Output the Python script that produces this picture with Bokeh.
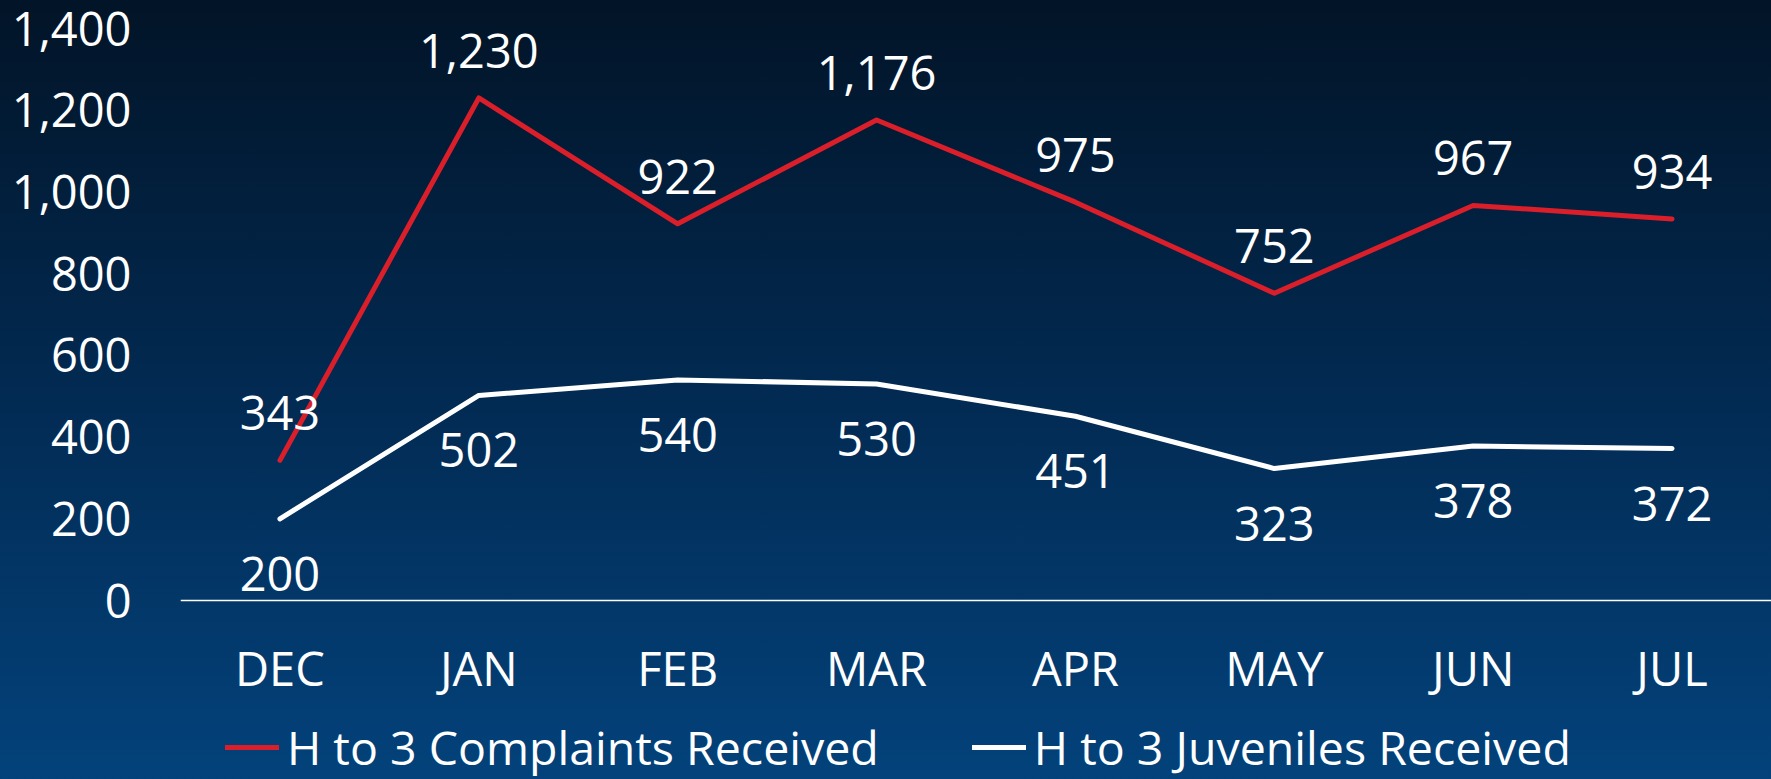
from bokeh.plotting import figure
from bokeh.models import ColumnDataSource, Legend, LegendItem, NumeralTickFormatter, FixedTicker
from bokeh.core.properties import value
from bokeh.embed import file_html
from bokeh.resources import INLINE

months = ["DEC", "JAN", "FEB", "MAR", "APR", "MAY", "JUN", "JUL"]
complaints = [343, 1230, 922, 1176, 975, 752, 967, 934]
juveniles = [200, 502, 540, 530, 451, 323, 378, 372]
y_ticks = [0, 200, 400, 600, 800, 1000, 1200, 1400]
series_names = ["H to 3 Complaints Received", "H to 3 Juveniles Received"]

FONT = "Open Sans"
FS = "47px"
RED = "#da1f2b"

src = ColumnDataSource(dict(
    m=months, c=complaints, j=juveniles,
    cl=[f"{v:,}" for v in complaints], jl=[f"{v:,}" for v in juveniles],
))

p = figure(width=1771, height=779, x_range=months, y_range=(-438, 1400),
           output_backend="svg", toolbar_location=None,
           min_border_left=180, min_border_right=0, min_border_top=28, min_border_bottom=0)
p.x_range.range_padding = 0
p.background_fill_color = None
p.border_fill_color = None
p.outline_line_color = None
p.styles = {"background": "linear-gradient(180deg, #021427 0%, #022a52 50%, #03427b 100%)"}
p.xgrid.grid_line_color = None
p.ygrid.grid_line_color = None

r1 = p.line("m", "c", source=src, line_color=RED, line_width=5, line_cap="round", line_join="round")
r2 = p.line("m", "j", source=src, line_color="white", line_width=5, line_cap="round", line_join="round")

p.text("m", "c", text="cl", source=src, text_color="white", text_font=value(FONT),
       text_font_size=FS, text_align="center", text_baseline="middle", y_offset=-47)
p.text("m", "j", text="jl", source=src, text_color="white", text_font=value(FONT),
       text_font_size=FS, text_align="center", text_baseline="middle", y_offset=55)

ya = p.yaxis[0]
ya.ticker = FixedTicker(ticks=y_ticks)
ya.formatter = NumeralTickFormatter(format="0,0")
ya.axis_line_color = None
ya.major_tick_line_color = None
ya.minor_tick_line_color = None
ya.major_label_text_color = "white"
ya.major_label_text_font = FONT
ya.major_label_text_font_size = FS
ya.major_label_standoff = 43

xa = p.xaxis[0]
xa.fixed_location = 0
xa.axis_line_color = "white"
xa.axis_line_width = 1.5
xa.major_tick_line_color = None
xa.minor_tick_line_color = None
xa.major_label_text_color = "white"
xa.major_label_text_font = FONT
xa.major_label_text_font_size = FS
xa.major_label_standoff = 29

legend = Legend(items=[LegendItem(label=series_names[0], renderers=[r1]),
                       LegendItem(label=series_names[1], renderers=[r2])],
                orientation="horizontal", location=(45, 0),
                background_fill_alpha=0, border_line_color=None,
                label_text_color="white", label_text_font=FONT, label_text_font_size="46.5px",
                glyph_width=54, glyph_height=40, label_standoff=8, spacing=93,
                padding=0, margin=0)
p.add_layout(legend)

open("out.html", "w").write(file_html(p, INLINE))
